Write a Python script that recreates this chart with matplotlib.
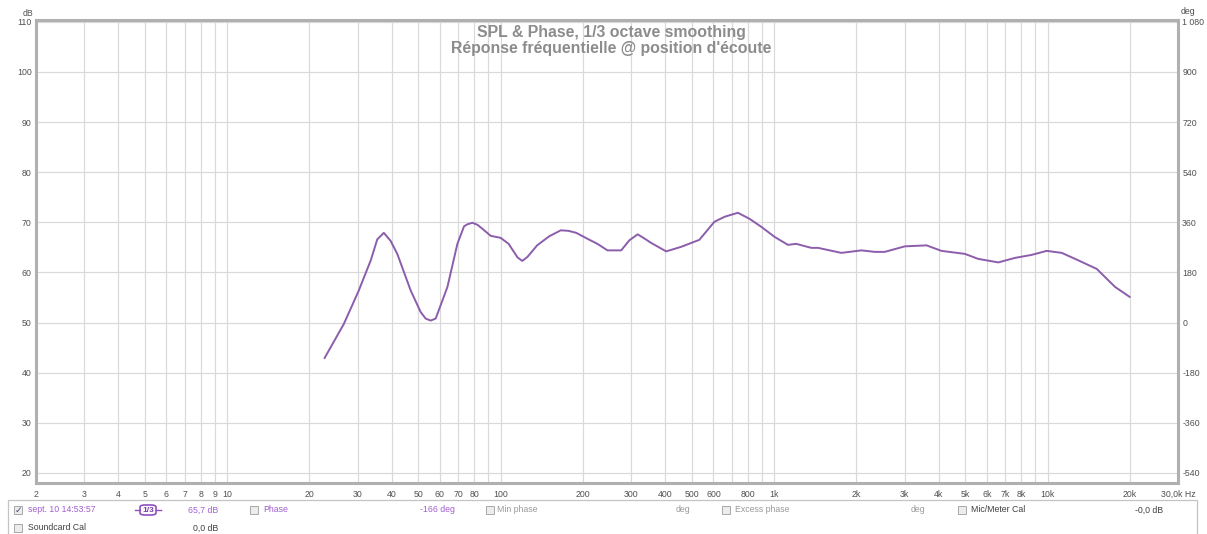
import matplotlib
matplotlib.use("Agg")
import matplotlib.pyplot as plt
from matplotlib.patches import Rectangle, FancyBboxPatch
from matplotlib.lines import Line2D

# ---------------- data ----------------
freq_hz = [22.7, 26.7, 30.3, 33.5, 35.4, 37.4, 39.6, 41.9, 46.9, 51.0, 53.2, 55.5, 57.9,
           63.9, 69.5, 73.5, 75.6, 78.9, 82.3, 85.8, 92, 100, 107, 115.3, 120, 125.4, 136,
           150.5, 166, 177, 189, 208, 226, 246, 276, 295.6, 317, 335, 355, 403, 457, 533,
           605, 659, 737, 813, 898, 1004, 1124, 1205, 1368, 1448, 1762, 2087, 2334, 2540,
           3006, 3610, 4094, 4986, 5580, 6608, 7604, 8750, 9932, 11274, 12974, 15136,
           17668, 20000]
spl_db = [42.9, 49.7, 56.4, 62.4, 66.6, 67.9, 66.3, 63.7, 56.4, 52.1, 50.8, 50.4, 50.8,
          57.1, 65.7, 69.2, 69.6, 69.9, 69.5, 68.7, 67.3, 66.9, 65.7, 63.0, 62.3, 63.1, 65.4,
          67.2, 68.4, 68.3, 67.9, 66.7, 65.7, 64.4, 64.4, 66.4, 67.6, 66.8, 65.9, 64.2, 65.1,
          66.5, 70.1, 71.1, 71.9, 70.7, 69.1, 67.1, 65.5, 65.7, 64.9, 64.9, 63.9, 64.4, 64.1,
          64.1, 65.2, 65.4, 64.3, 63.7, 62.7, 62.0, 62.9, 63.5, 64.3, 63.9, 62.4, 60.7, 57.1,
          55.1]

grid_freqs = [3, 4, 5, 6, 7, 8, 9, 10, 20, 30, 40, 50, 60, 70, 80, 90, 100,
              200, 300, 400, 500, 600, 700, 800, 900, 1000,
              2000, 3000, 4000, 5000, 6000, 7000, 8000, 9000, 10000, 20000]
x_tick_vals = [2, 3, 4, 5, 6, 7, 8, 9, 10, 20, 30, 40, 50, 60, 70, 80, 100,
               200, 300, 400, 500, 600, 800, 1000, 2000, 3000, 4000, 5000,
               6000, 7000, 8000, 10000, 20000, 30000]
x_tick_labels = ["2", "3", "4", "5", "6", "7", "8", "9", "10", "20", "30", "40", "50",
                 "60", "70", "80", "100", "200", "300", "400", "500", "600", "800",
                 "1k", "2k", "3k", "4k", "5k", "6k", "7k", "8k", "10k", "20k", "30,0k Hz"]
db_ticks = [20, 30, 40, 50, 60, 70, 80, 90, 100, 110]
deg_ticks = [-540, -360, -180, 0, 180, 360, 540, 720, 900, 1080]
deg_labels = ["-540", "-360", "-180", "0", "180", "360", "540", "720", "900", "1 080"]

title_lines = ["SPL & Phase, 1/3 octave smoothing",
               "Réponse fréquentielle @ position d'écoute"]

# ---------------- figure ----------------
W, H = 1207, 534
plt.rcParams['font.family'] = ['Liberation Sans', 'DejaVu Sans']
fig = plt.figure(figsize=(W / 100, H / 100), dpi=100)
fig.patch.set_facecolor('white')


def fx(x):
    return x / W


def fy(y):
    return 1 - y / H


L, R, T, B = 36, 1178, 20, 483
ax = fig.add_axes([fx(L), fy(B), fx(R) - fx(L), fy(T) - fy(B)])
ax.set_xscale('log')
ax.set_xlim(2, 30000)
ax.set_ylim(18.0, 110.35)

for g in grid_freqs:
    ax.axvline(g, color='#d9d9d9', lw=0.85, zorder=1)
for d in db_ticks:
    ax.axhline(d, color='#d9d9d9', lw=0.85, zorder=1)

ax.plot(freq_hz, spl_db, color='#8b5dab', lw=1.4, zorder=3,
        solid_capstyle='round', solid_joinstyle='round')

ax.xaxis.set_minor_locator(matplotlib.ticker.NullLocator())
ax.set_xticks(x_tick_vals)
ax.set_xticklabels(x_tick_labels)
ax.set_yticks(db_ticks)
ax.set_yticklabels([str(d) for d in db_ticks])
ax.tick_params(axis='both', length=0, labelsize=6.3, colors='#505050')
ax.tick_params(axis='x', pad=5)
ax.tick_params(axis='y', pad=3)

for s in ax.spines.values():
    s.set_color('#b0b0b0')
    s.set_linewidth(2.2)

sec = ax.secondary_yaxis('right', functions=(lambda d: (d - 50) * 18, lambda p: p / 18 + 50))
sec.set_yticks(deg_ticks)
sec.set_yticklabels(deg_labels)
sec.tick_params(length=0, labelsize=6.3, colors='#505050', pad=3)
sec.spines['right'].set_visible(False)

fig.text(fx(33), fy(13), 'dB', ha='right', va='center', fontsize=6.3, color='#505050')
fig.text(fx(1181), fy(12), 'deg', ha='left', va='center', fontsize=6.3, color='#505050')

fig.text(fx(611), fy(32), title_lines[0], ha='center', va='center', fontsize=11.4,
         color='#8c8c8c', fontweight='bold')
fig.text(fx(611), fy(48), title_lines[1], ha='center', va='center', fontsize=11.4,
         color='#8c8c8c', fontweight='bold')

# ---------------- legend panel ----------------
fig.patches.append(Rectangle((fx(8), fy(540)), fx(1197) - fx(8), fy(500) - fy(540),
                             transform=fig.transFigure, facecolor='white',
                             edgecolor='#c4c4c4', lw=0.9))


def checkbox(x, y, checked=False):
    fig.patches.append(Rectangle((fx(x), fy(y + 4)), fx(8), 8 / H, transform=fig.transFigure,
                                 facecolor='#ececec', edgecolor='#a8a8a8', lw=0.7))
    if checked:
        fig.text(fx(x + 4), fy(y), '✓', ha='center', va='center', fontsize=6.5,
                 color='#4a4a6a', family='DejaVu Sans')


purple = '#a35fd0'
gray = '#9a9a9a'
dark = '#404040'
fs = 6.3
r1, r2 = 510, 528

checkbox(14, r1, True)
fig.text(fx(28), fy(r1), 'sept. 10 14:53:57', ha='left', va='center', fontsize=fs, color=purple)
fig.patches.append(FancyBboxPatch((fx(140), fy(r1 + 5)), fx(16), 10 / H,
                                  boxstyle='round,pad=0.0,rounding_size=0.004',
                                  transform=fig.transFigure, facecolor='white',
                                  edgecolor='#9050c0', lw=1.2))
fig.lines.append(Line2D([fx(135), fx(140)], [fy(r1), fy(r1)], transform=fig.transFigure,
                        color='#9050c0', lw=1.0))
fig.lines.append(Line2D([fx(156), fx(161)], [fy(r1), fy(r1)], transform=fig.transFigure,
                        color='#9050c0', lw=1.0))
fig.text(fx(148), fy(r1), '1/3', ha='center', va='center', fontsize=6, color='#7a3aa8',
         fontweight='bold')
fig.text(fx(218), fy(r1), '65,7 dB', ha='right', va='center', fontsize=fs, color=purple)
checkbox(250, r1)
fig.text(fx(263), fy(r1), 'Phase', ha='left', va='center', fontsize=fs, color=purple)
fig.text(fx(455), fy(r1), '-166 deg', ha='right', va='center', fontsize=fs, color=purple)
checkbox(486, r1)
fig.text(fx(497), fy(r1), 'Min phase', ha='left', va='center', fontsize=fs, color=gray)
fig.text(fx(690), fy(r1), 'deg', ha='right', va='center', fontsize=fs, color=gray)
checkbox(722, r1)
fig.text(fx(735), fy(r1), 'Excess phase', ha='left', va='center', fontsize=fs, color=gray)
fig.text(fx(925), fy(r1), 'deg', ha='right', va='center', fontsize=fs, color=gray)
checkbox(958, r1)
fig.text(fx(971), fy(r1), 'Mic/Meter Cal', ha='left', va='center', fontsize=fs, color=dark)
fig.text(fx(1163), fy(r1), '-0,0 dB', ha='right', va='center', fontsize=fs, color=dark)

checkbox(14, r2)
fig.text(fx(28), fy(r2), 'Soundcard Cal', ha='left', va='center', fontsize=fs, color=dark)
fig.text(fx(218), fy(r2), '0,0 dB', ha='right', va='center', fontsize=fs, color=dark)

fig.savefig('out.png', dpi=100, facecolor='white')
